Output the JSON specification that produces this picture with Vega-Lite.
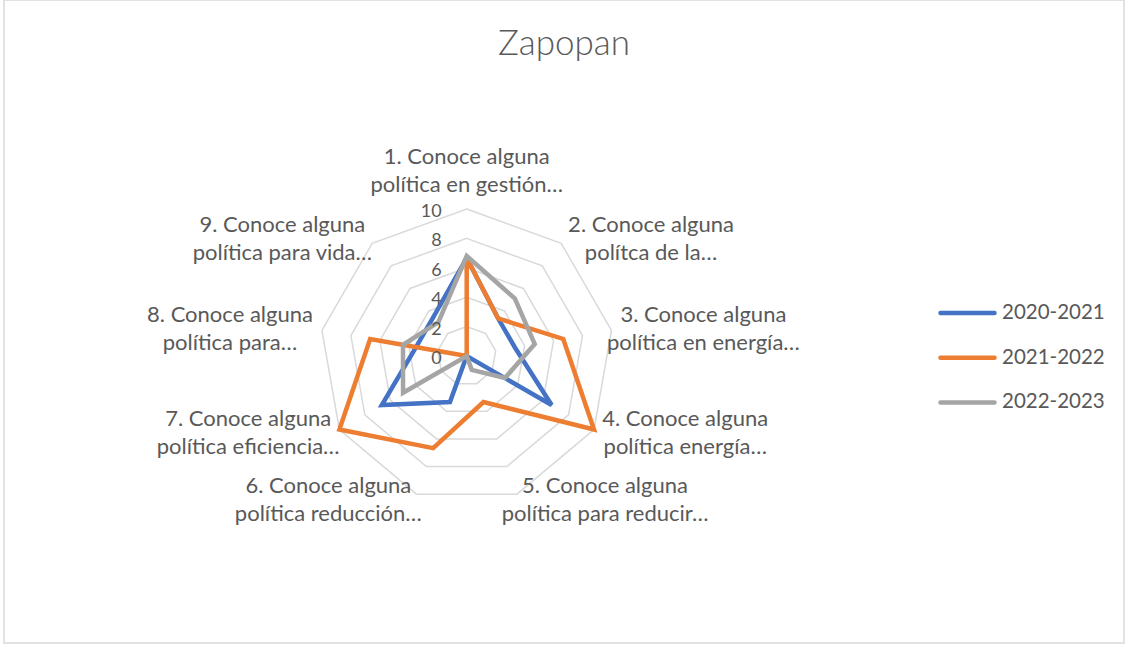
{
  "$schema": "https://vega.github.io/schema/vega-lite/v6.json",
  "width": 1120,
  "height": 643,
  "autosize": {"type": "none"},
  "padding": {"left": 4, "top": 0, "right": 6, "bottom": 2},
  "background": "white",
  "title": {"text": "Zapopan", "fontSize": 35, "font": "Lato", "fontWeight": 300, "color": "#595959", "anchor": "middle", "frame": "group", "offset": -90, "baseline": "alphabetic"},
  "config": {"view": {"stroke": "#D9D9D9", "strokeWidth": 1.5}, "font": "Lato"},
  "layer": [
    {
      "data": {"values": [
        {"ring": 2, "axis": [1,2,3,4,5,6,7,8,9]},
        {"ring": 4, "axis": [1,2,3,4,5,6,7,8,9]},
        {"ring": 6, "axis": [1,2,3,4,5,6,7,8,9]},
        {"ring": 8, "axis": [1,2,3,4,5,6,7,8,9]},
        {"ring": 10, "axis": [1,2,3,4,5,6,7,8,9]}
      ]},
      "transform": [
        {"flatten": ["axis"]},
        {"calculate": "(datum.axis-1)*2*PI/9", "as": "a"},
        {"calculate": "datum.ring*sin(datum.a)", "as": "px"},
        {"calculate": "datum.ring*cos(datum.a)", "as": "py"}
      ],
      "mark": {"type": "line", "interpolate": "linear-closed", "color": "#D9D9D9", "strokeWidth": 1.5},
      "encoding": {
        "x": {"field": "px", "type": "quantitative", "scale": {"domain": [-31.476, 44.714], "nice": false, "zero": false}, "axis": null},
        "y": {"field": "py", "type": "quantitative", "scale": {"domain": [-19.524, 24.218], "nice": false, "zero": false}, "axis": null},
        "detail": {"field": "ring"},
        "order": {"field": "axis"}
      }
    },
    {
      "data": {"values": [
        {"series": "2020-2021", "axis": 1, "value": 6.67},
        {"series": "2020-2021", "axis": 2, "value": 3.33},
        {"series": "2020-2021", "axis": 3, "value": 3.33},
        {"series": "2020-2021", "axis": 4, "value": 6.67},
        {"series": "2020-2021", "axis": 5, "value": 0},
        {"series": "2020-2021", "axis": 6, "value": 3.33},
        {"series": "2020-2021", "axis": 7, "value": 6.67},
        {"series": "2020-2021", "axis": 8, "value": 3.5},
        {"series": "2020-2021", "axis": 9, "value": 3.5},
        {"series": "2021-2022", "axis": 1, "value": 6.67},
        {"series": "2021-2022", "axis": 2, "value": 3.33},
        {"series": "2021-2022", "axis": 3, "value": 6.67},
        {"series": "2021-2022", "axis": 4, "value": 10},
        {"series": "2021-2022", "axis": 5, "value": 3.33},
        {"series": "2021-2022", "axis": 6, "value": 6.67},
        {"series": "2021-2022", "axis": 7, "value": 10},
        {"series": "2021-2022", "axis": 8, "value": 6.67},
        {"series": "2021-2022", "axis": 9, "value": 0},
        {"series": "2022-2023", "axis": 1, "value": 6.8},
        {"series": "2022-2023", "axis": 2, "value": 5.1},
        {"series": "2022-2023", "axis": 3, "value": 4.7},
        {"series": "2022-2023", "axis": 4, "value": 3.0},
        {"series": "2022-2023", "axis": 5, "value": 1.0},
        {"series": "2022-2023", "axis": 6, "value": 0},
        {"series": "2022-2023", "axis": 7, "value": 5.0},
        {"series": "2022-2023", "axis": 8, "value": 4.4},
        {"series": "2022-2023", "axis": 9, "value": 3.0}
      ]},
      "transform": [
        {"calculate": "(datum.axis-1)*2*PI/9", "as": "a"},
        {"calculate": "datum.value*sin(datum.a)", "as": "px"},
        {"calculate": "datum.value*cos(datum.a)", "as": "py"}
      ],
      "mark": {"type": "line", "interpolate": "linear-closed", "strokeWidth": 4.5},
      "encoding": {
        "x": {"field": "px", "type": "quantitative"},
        "y": {"field": "py", "type": "quantitative"},
        "order": {"field": "axis"},
        "color": {
          "field": "series", "type": "nominal",
          "scale": {"domain": ["2020-2021", "2021-2022", "2022-2023"], "range": ["#4472C4", "#ED7D31", "#A5A5A5"]},
          "legend": {
            "title": null, "orient": "none", "legendX": 934, "legendY": 283.5,
            "padding": 0, "symbolType": "stroke", "symbolSize": 2916, "symbolStrokeWidth": 4.5,
            "labelFontSize": 20.5, "labelFont": "Lato", "labelColor": "#595959", "labelOffset": 5,
            "rowPadding": 4.7,
            "symbolOpacity": 1,
            "encode": {"symbols": {"update": {"strokeCap": {"value": "round"}}}}
          }
        }
      }
    },
    {
      "data": {"values": [{"tick": 0}, {"tick": 2}, {"tick": 4}, {"tick": 6}, {"tick": 8}, {"tick": 10}]},
      "mark": {"type": "text", "align": "right", "baseline": "middle", "dx": -25, "dy": 3, "fontSize": 18, "color": "#595959"},
      "encoding": {
        "x": {"datum": 0, "type": "quantitative"},
        "y": {"field": "tick", "type": "quantitative"},
        "text": {"field": "tick"}
      }
    },
    {
      "data": {"values": [
        {"axis": 1, "label": "1. Conoce alguna\npolítica en gestión…"},
        {"axis": 2, "label": "2. Conoce alguna\npolítca de la…"},
        {"axis": 3, "label": "3. Conoce alguna\npolítica en energía…"},
        {"axis": 4, "label": "4. Conoce alguna\npolítica energía…"},
        {"axis": 5, "label": "5. Conoce alguna\npolítica para reducir…"},
        {"axis": 6, "label": "6. Conoce alguna\npolítica reducción…"},
        {"axis": 7, "label": "7. Conoce alguna\npolítica eficiencia…"},
        {"axis": 8, "label": "8. Conoce alguna\npolítica para…"},
        {"axis": 9, "label": "9. Conoce alguna\npolítica para vida…"}
      ]},
      "transform": [
        {"calculate": "(datum.axis-1)*2*PI/9", "as": "a"},
        {"calculate": "10.41*sin(datum.a) + (sin(datum.a) > 0.1 ? 5.85 : (sin(datum.a) < -0.1 ? -5.85 : 0))", "as": "lx"},
        {"calculate": "10.41*cos(datum.a) + (cos(datum.a) > 0.9 ? 2.18 : 0)", "as": "ly"}
      ],
      "mark": {"type": "text", "align": "center", "baseline": "middle", "dy": -14, "fontSize": 22, "lineHeight": 28, "lineBreak": "\n", "color": "#595959"},
      "encoding": {
        "x": {"field": "lx", "type": "quantitative"},
        "y": {"field": "ly", "type": "quantitative"},
        "text": {"field": "label"}
      }
    }
  ]
}
